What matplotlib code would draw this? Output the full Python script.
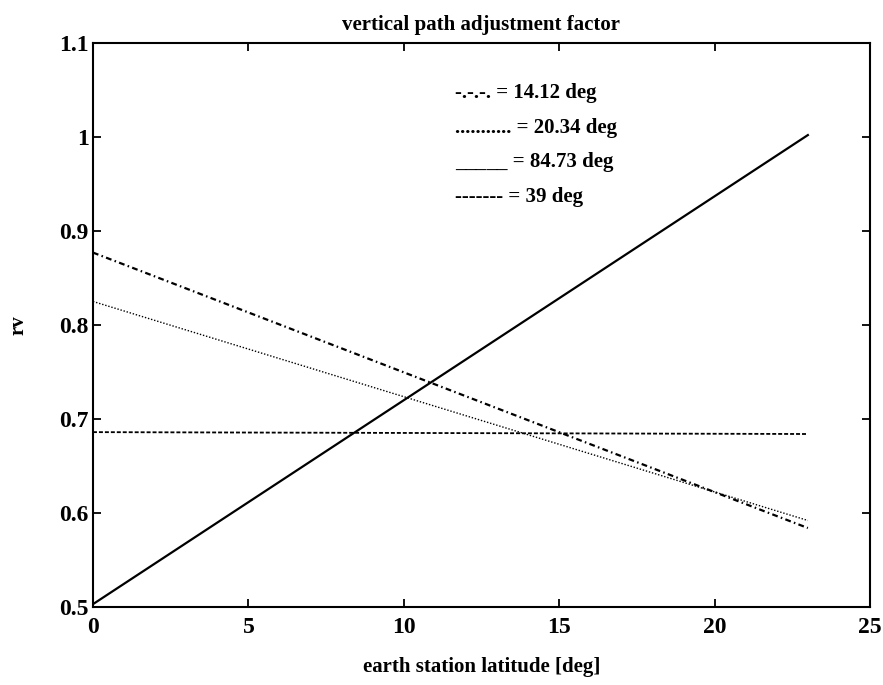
import matplotlib
matplotlib.use('Agg')
import matplotlib.pyplot as plt

# earth station latitude [deg]
latitude = [0, 23]

# rv for each elevation angle
rv_14 = [0.877, 0.584]
rv_20 = [0.825, 0.592]
rv_84 = [0.503, 1.002]
rv_39 = [0.686, 0.684]

labels = ['-.-.-. = 14.12 deg', '........... = 20.34 deg',
          '_____ = 84.73 deg', '------- = 39 deg']

plt.rcParams['font.family'] = ['Liberation Serif', 'DejaVu Serif']
plt.rcParams['font.weight'] = 'bold'
plt.rcParams['axes.titleweight'] = 'bold'
plt.rcParams['axes.labelweight'] = 'bold'

fig = plt.figure(figsize=(8.83, 6.85), dpi=100)
ax = fig.add_axes([0.1053, 0.1139, 0.88, 0.8234])

ax.plot(latitude, rv_14, color='black', lw=1.6, dashes=(2.6, 1.5, 0.7, 1.5))
ax.plot(latitude, rv_20, color='black', lw=1.0, dashes=(1, 1.3))
ax.plot(latitude, rv_84, color='black', lw=1.6)
ax.plot(latitude, rv_39, color='black', lw=1.3, dashes=(2.2, 1.1))

ax.set_xlim(0, 25)
ax.set_ylim(0.5, 1.1)
ax.set_xticks([0, 5, 10, 15, 20, 25])
ax.set_xticklabels(['0', '5', '10', '15', '20', '25'])
ax.set_yticks([0.5, 0.6, 0.7, 0.8, 0.9, 1.0, 1.1])
ax.set_yticklabels(['0.5', '0.6', '0.7', '0.8', '0.9', '1', '1.1'])
ax.tick_params(direction='in', top=True, right=True, length=5.5, width=1.3,
               labelsize=17)
ax.tick_params(axis='x', pad=7)
ax.tick_params(axis='y', pad=3)
for s in ax.spines.values():
    s.set_linewidth(1.5)

ax.set_title('vertical path adjustment factor', fontsize=15, pad=9)
ax.set_xlabel('earth station latitude [deg]', fontsize=15, labelpad=14)
ax.set_ylabel('rv', fontsize=15, labelpad=22)

ys = [0.911, 0.849, 0.789, 0.727]
for lab, y in zip(labels, ys):
    ax.text(0.466, y, lab, transform=ax.transAxes, fontsize=15, va='center')

fig.savefig('out.png', dpi=100)
